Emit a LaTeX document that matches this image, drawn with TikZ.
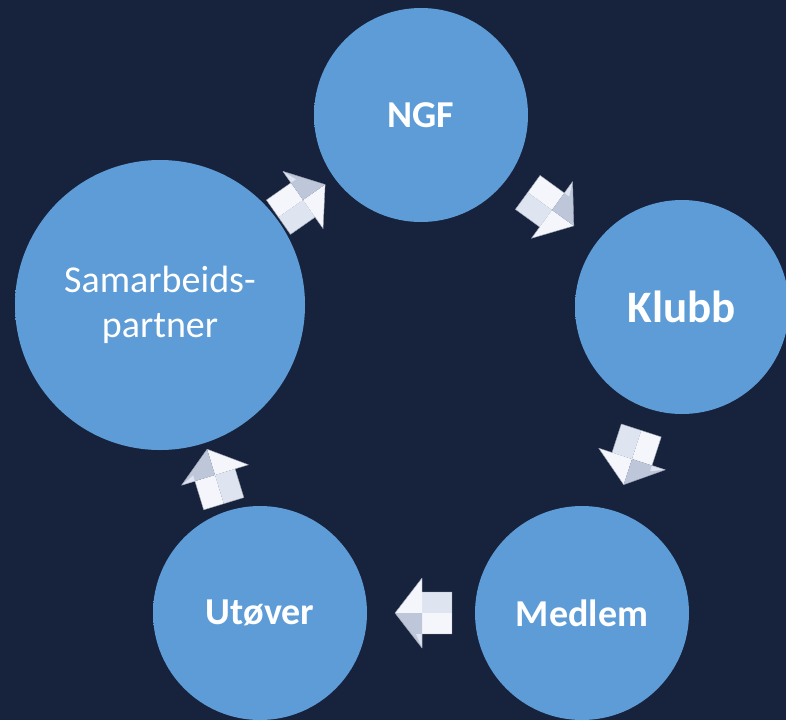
\documentclass[tikz,border=0pt]{standalone}
\usepackage{fontspec}
\setmainfont{Carlito}
\definecolor{bg}{RGB}{23,35,61}
\definecolor{nodeblue}{RGB}{93,156,214}
\definecolor{rimblue}{RGB}{72,128,188}
\definecolor{rimlight}{RGB}{120,175,228}
\definecolor{arrlight}{RGB}{244,246,252}
\definecolor{arrmid}{RGB}{222,228,240}
\definecolor{arrdark}{RGB}{190,199,218}
\pgfdeclareradialshading{bubble}{\pgfpoint{0bp}{0bp}}{color(0bp)=(nodeblue); color(42bp)=(nodeblue); color(48bp)=(rimblue); color(49.3bp)=(rimblue); color(50bp)=(rimlight)}
\tikzset{
  cyc/.style={circle, inner sep=0pt, minimum size=214pt, shading=bubble, text=white,
    align=center, font=\bfseries\fontsize{38}{45}\selectfont},
  cycarrow/.pic={
    \fill[arrmid] (-30,0) -- (-30,21) -- (0,21) -- (0,0) -- cycle;
    \fill[arrlight] (-30,0) -- (-30,-21) -- (0,-21) -- (0,0) -- cycle;
    \fill[arrlight] (0,0) -- (0,35) -- (27,0) -- cycle;
    \fill[arrdark] (0,0) -- (0,-35) -- (27,0) -- cycle;
    \fill[arrmid] (0,-35) -- (0,-21) -- (6,-21) -- cycle;
    \draw[arrdark!80!black, line width=0.4pt, line join=round]
      (-30,-21) -- (0,-21) -- (0,-35) -- (27,0) -- (0,35) -- (0,21) -- (-30,21) -- cycle;
  }
}
\begin{document}
\begin{tikzpicture}[x=1pt,y=-1pt]
  \useasboundingbox (0,0) rectangle (786,720);
  \clip (0,0) rectangle (786,720);
  \fill[bg] (0,0) rectangle (786,720);

  \node[cyc] (ngf) at (421,115) {NGF};
  \node[cyc, font=\bfseries\fontsize{45}{50}\selectfont] (klubb) at (682,307) {Klubb};
  \node[cyc] (medlem) at (582,613) {Medlem};
  \node[cyc] (utover) at (260,613) {Utøver};
  \node[cyc, minimum size=290pt, font=\mdseries\fontsize{38}{45}\selectfont] (samarb) at (160,305) {Samarbeids-\\partner};

  \pic[rotate=35] at (303,200) {cycarrow};
  \pic[rotate=-36] at (552,210) {cycarrow};
  \pic[rotate=-108] at (632,459) {cycarrow};
  \pic[rotate=180] at (422,613) {cycarrow};
  \pic[rotate=107] at (215,475) {cycarrow};
\end{tikzpicture}
\end{document}
